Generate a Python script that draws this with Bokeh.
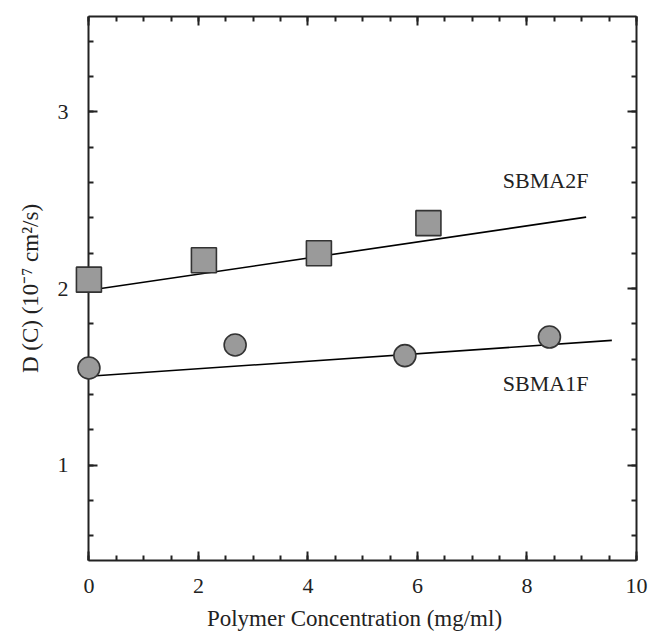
from bokeh.plotting import figure
from bokeh.models import LinearAxis, SingleIntervalTicker, Range1d, Label
from bokeh.embed import file_html
from bokeh.resources import INLINE

# ---- data ----
sbma2f_conc = [0.0, 2.10, 4.20, 6.20]
sbma2f_D = [2.05, 2.16, 2.20, 2.37]

sbma1f_conc = [0.0, 2.67, 5.77, 8.41]
sbma1f_D = [1.55, 1.68, 1.62, 1.725]

# linear fits (intercept, slope) and drawn extent
fit2_intercept, fit2_slope = 1.99, 0.0456
fit2_x = [0.0, 9.08]
fit1_intercept, fit1_slope = 1.503, 0.0213
fit1_x = [0.0, 9.55]

x_ticks_interval = 2
y_ticks_interval = 1
x_axis_bounds = (0, 10)

FONT = "Liberation Serif"
AXIS_COLOR = "#222222"

p = figure(width=648, height=633,
           x_range=Range1d(-0.3, 10), y_range=Range1d(0.46, 3.54),
           output_backend="svg", toolbar_location=None,
           min_border_left=72, min_border_right=12,
           min_border_top=16, min_border_bottom=70)
p.background_fill_color = "white"
p.border_fill_color = "white"
p.outline_line_color = None
p.xgrid.visible = False
p.ygrid.visible = False

def style_axis(ax, labels=True):
    ax.axis_line_color = AXIS_COLOR
    ax.axis_line_width = 2
    ax.major_tick_line_color = AXIS_COLOR
    ax.major_tick_line_width = 2
    ax.minor_tick_line_color = AXIS_COLOR
    ax.minor_tick_line_width = 2
    ax.major_tick_in = 9
    ax.major_tick_out = 0
    ax.minor_tick_in = 5
    ax.minor_tick_out = 0
    ax.major_label_text_font = FONT
    ax.major_label_text_font_size = "22px" if labels else "0px"
    ax.major_label_text_color = "#222222" if labels else None
    ax.axis_label_text_font = FONT
    ax.axis_label_text_font_style = "normal"
    ax.axis_label_text_font_size = "23px"
    ax.axis_label_text_color = "#222222"

# bottom axis
p.xaxis.ticker = SingleIntervalTicker(interval=x_ticks_interval, num_minor_ticks=4)
for ax in p.xaxis:
    style_axis(ax)
    ax.bounds = x_axis_bounds
    ax.major_label_standoff = 18
    ax.axis_label = "Polymer Concentration (mg/ml)"
    ax.axis_label_standoff = 10

# left: labels-only axis at the frame edge
p.yaxis.ticker = SingleIntervalTicker(interval=y_ticks_interval, num_minor_ticks=5)
for ax in p.yaxis:
    style_axis(ax)
    ax.axis_line_color = None
    ax.major_tick_line_color = None
    ax.minor_tick_line_color = None
    ax.major_label_standoff = 4
    ax.axis_label = "D (C) (10\u207b\u2077 cm\u00b2/s)"
    ax.axis_label_standoff = 12

# left: axis line + ticks fixed at x = 0
yline = LinearAxis(ticker=SingleIntervalTicker(interval=y_ticks_interval, num_minor_ticks=5))
style_axis(yline, labels=False)
yline.fixed_location = 0
yline.major_label_standoff = 0
p.add_layout(yline, "left")

top = LinearAxis(ticker=SingleIntervalTicker(interval=x_ticks_interval, num_minor_ticks=4))
style_axis(top, labels=False)
top.bounds = x_axis_bounds
top.major_label_standoff = 0
p.add_layout(top, "above")
right = LinearAxis(ticker=SingleIntervalTicker(interval=y_ticks_interval, num_minor_ticks=5))
style_axis(right, labels=False)
right.major_label_standoff = 0
p.add_layout(right, "right")

# fit lines
fit2_y = [fit2_intercept + fit2_slope * x for x in fit2_x]
fit1_y = [fit1_intercept + fit1_slope * x for x in fit1_x]
p.line(fit2_x, fit2_y, line_color="black", line_width=1.6)
p.line(fit1_x, fit1_y, line_color="black", line_width=1.6)

# markers (drawn above the axes, as in the reference)
p.scatter(sbma2f_conc, sbma2f_D, marker="square", size=25,
          fill_color="#9a9a9a", line_color="#333333", line_width=1.6,
          level="overlay")
p.scatter(sbma1f_conc, sbma1f_D, marker="circle", size=22,
          fill_color="#9a9a9a", line_color="#333333", line_width=1.6,
          level="overlay")

# series labels
p.add_layout(Label(x=8.34, y=2.61, text="SBMA2F", text_font=FONT,
                   text_font_size="22px", text_color="#222222",
                   text_align="center", text_baseline="middle"))
p.add_layout(Label(x=8.34, y=1.46, text="SBMA1F", text_font=FONT,
                   text_font_size="22px", text_color="#222222",
                   text_align="center", text_baseline="middle"))

open("out.html", "w").write(file_html(p, INLINE))
